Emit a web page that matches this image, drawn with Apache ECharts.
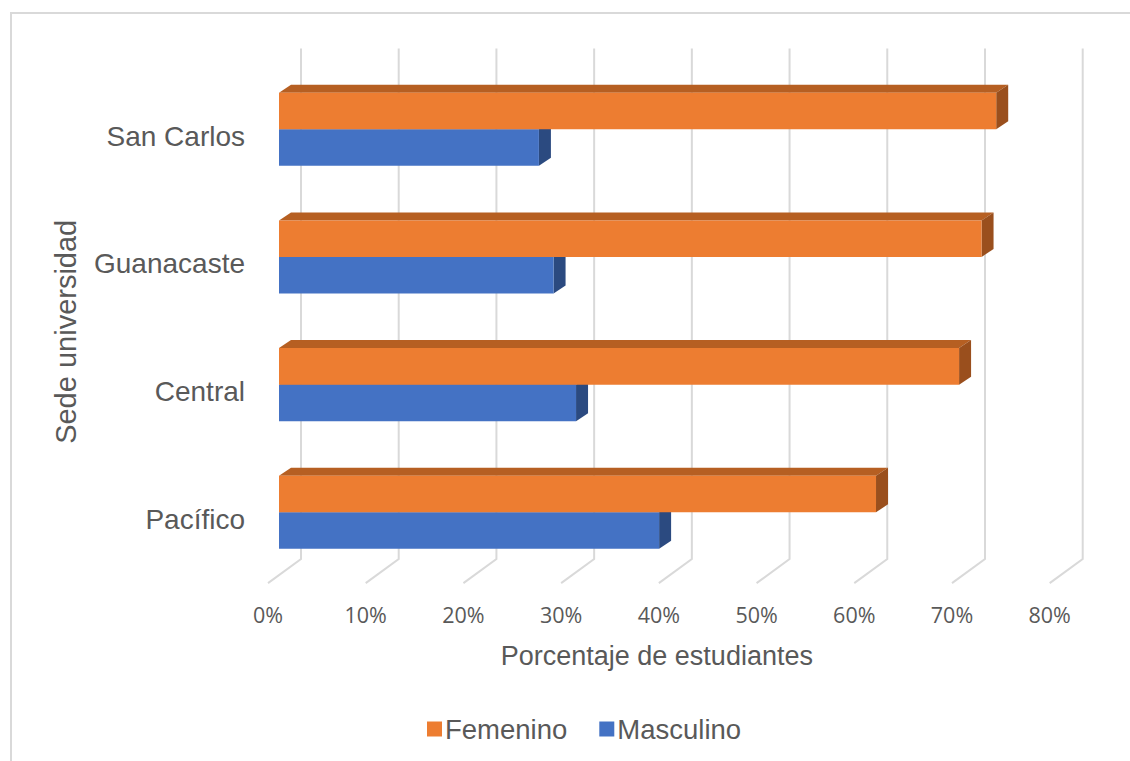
<!DOCTYPE html>
<html>
<head>
<meta charset="utf-8">
<title>Sede universidad por sexo</title>
<script src="https://cdn.jsdelivr.net/npm/echarts@6/dist/echarts.min.js"></script>
<style>
  html, body { margin: 0; padding: 0; background: #ffffff; }
  #chart { width: 1130px; height: 761px; }
</style>
</head>
<body>
<div id="chart"></div>
<script>
// Campus names (top to bottom) and share of students by sex, in percent
const sedes = ['San Carlos', 'Guanacaste', 'Central', 'Pacífico'];
const femenino = [73.4, 71.9, 69.6, 61.1];
const masculino = [26.6, 28.1, 30.4, 38.9];
// Value axis ticks, in percent
const ticks = [0, 10, 20, 30, 40, 50, 60, 70, 80];

// Oblique depth of each 3-D bar and of the back wall / floor
const DEPTH_X = 12, DEPTH_Y = 8;
const WALL_X = 22, FLOOR_X = -11;
const BAR_SHARE = 0.286; // bar thickness as share of a category band

const COLORS = {
  Femenino: { front: '#ED7D31', top: '#B65F22', side: '#9A4F1D' },
  Masculino: { front: '#4472C4', top: '#2F528F', side: '#2B4A80' }
};

const TEXT = { color: '#595959', fontFamily: 'Liberation Sans' };

function barRenderer(palette, upper) {
  return function (params, api) {
    const val = api.value(0);
    const cat = api.value(1);
    const p0 = api.coord([0, cat]);
    const p1 = api.coord([val, cat]);
    const band = api.size([0, 1])[1];
    const h = band * BAR_SHARE;
    const x0 = p0[0], x1 = p1[0];
    const y0 = upper ? p0[1] - h : p0[1];
    const y1 = y0 + h;
    return {
      type: 'group',
      children: [
        {
          type: 'polygon',
          shape: { points: [[x0, y0], [x0 + DEPTH_X, y0 - DEPTH_Y], [x1 + DEPTH_X, y0 - DEPTH_Y], [x1, y0]] },
          style: { fill: palette.top }
        },
        {
          type: 'polygon',
          shape: { points: [[x1, y0], [x1 + DEPTH_X, y0 - DEPTH_Y], [x1 + DEPTH_X, y1 - DEPTH_Y], [x1, y1]] },
          style: { fill: palette.side }
        },
        {
          type: 'rect',
          shape: { x: x0, y: y0, width: x1 - x0, height: h },
          style: { fill: palette.front }
        }
      ]
    };
  };
}

// Back-wall gridline with its slanted run across the floor
function gridRenderer(params, api) {
  const v = api.value(0);
  const p = api.coord([v, 0]);
  const cs = params.coordSys;
  const x = p[0];
  const topY = cs.y - 17;
  const backY = cs.y + cs.height - 17;
  const frontY = cs.y + cs.height + 7;
  return {
    type: 'polyline',
    shape: { points: [[x + WALL_X, topY], [x + WALL_X, backY], [x + FLOOR_X, frontY]] },
    style: { stroke: '#D9D9D9', lineWidth: 2, fill: null }
  };
}

const chart = echarts.init(document.getElementById('chart'), null, { renderer: 'svg' });

chart.setOption({
  backgroundColor: '#ffffff',
  animation: false,
  graphic: [{
    type: 'rect',
    shape: { x: 11, y: 13, width: 1200, height: 800 },
    style: { fill: null, stroke: '#D9D9D9', lineWidth: 2 },
    silent: true
  }],
  grid: [
    // plotting plane of the bars
    { left: 279, right: 69.3, top: 65.5, bottom: 184.9 },
    // category labels sit on the front edge of the floor, slightly lower
    { left: 279, right: 69.3, top: 72.5, bottom: 177.9 }
  ],
  xAxis: [
    {
      type: 'value',
      gridIndex: 0,
      min: 0,
      max: 80,
      interval: 10,
      axisLine: { show: false },
      axisTick: { show: false },
      splitLine: { show: false },
      axisLabel: {
        formatter: '{value}%',
        margin: 27,
        padding: [0, 22, 0, 0],
        color: '#595959',
        fontSize: 21.5,
        fontFamily: 'Open Sans'
      },
      name: 'Porcentaje de estudiantes',
      nameLocation: 'middle',
      nameGap: 66,
      nameTextStyle: Object.assign({ fontSize: 27, padding: [0, 26, 0, 0] }, TEXT)
    },
    {
      type: 'value',
      gridIndex: 1,
      min: 0,
      max: 80,
      show: false
    }
  ],
  yAxis: [
    {
      type: 'category',
      gridIndex: 0,
      data: sedes,
      inverse: true,
      axisLine: { show: false },
      axisTick: { show: false },
      splitLine: { show: false },
      axisLabel: { show: false },
      name: 'Sede universidad',
      nameLocation: 'middle',
      nameGap: 199,
      nameTextStyle: Object.assign({ fontSize: 29, padding: [0, 22, 0, 0] }, TEXT)
    },
    {
      type: 'category',
      gridIndex: 1,
      data: sedes,
      inverse: true,
      axisLine: { show: false },
      axisTick: { show: false },
      splitLine: { show: false },
      axisLabel: Object.assign({ margin: 34, fontSize: 28 }, TEXT)
    }
  ],
  legend: {
    data: ['Femenino', 'Masculino'],
    left: 422,
    top: 710,
    icon: 'rect',
    itemWidth: 15,
    itemHeight: 15,
    itemGap: 32,
    textStyle: Object.assign({ fontSize: 27.5, padding: [0, 0, 0, -2] }, TEXT)
  },
  series: [
    {
      name: 'grid',
      type: 'custom',
      renderItem: gridRenderer,
      data: ticks.map(t => [t]),
      encode: { x: 0 },
      z: 1,
      silent: true
    },
    {
      name: 'Femenino',
      type: 'custom',
      renderItem: barRenderer(COLORS.Femenino, true),
      itemStyle: { color: COLORS.Femenino.front },
      data: femenino.map((v, i) => [v, i]),
      encode: { x: 0, y: 1 },
      z: 4
    },
    {
      name: 'Masculino',
      type: 'custom',
      renderItem: barRenderer(COLORS.Masculino, false),
      itemStyle: { color: COLORS.Masculino.front },
      data: masculino.map((v, i) => [v, i]),
      encode: { x: 0, y: 1 },
      z: 3
    }
  ]
});
</script>
</body>
</html>
